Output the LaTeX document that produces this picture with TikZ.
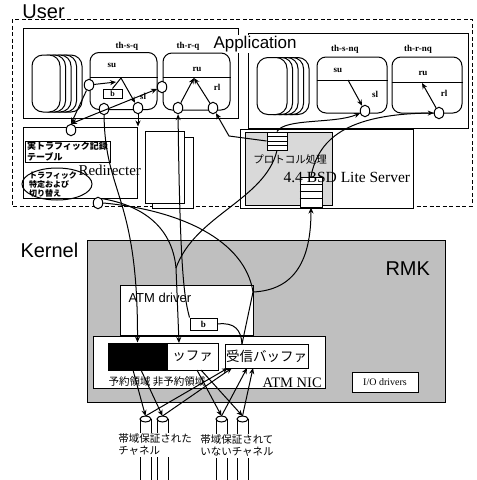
\documentclass[tikz,border=0pt]{standalone}
\usepackage{fontspec}
\setmainfont{Liberation Serif}
\setsansfont{Liberation Sans}
\newfontfamily\jpfont{Noto Sans CJK JP}
\usetikzlibrary{shapes.geometric, arrows.meta, positioning, calc}

\begin{document}
\begin{tikzpicture}[
    x=1pt, y=-1pt,
    line width=1pt,
    box/.style={draw, fill=white, inner sep=0pt},
    userframe/.style={draw, line width=1pt, dash pattern=on 4pt off 2.5pt},
    thbox/.style={draw, rounded corners=9pt, fill=white, minimum width=67pt, minimum height=57pt, inner sep=0pt},
    pill/.style={draw, rounded corners=11pt, fill=white, minimum width=28pt, minimum height=57pt, inner sep=0pt},
    port/.style={ellipse, draw, fill=white, minimum width=9.5pt, minimum height=11.5pt, inner sep=0pt},
    arrow/.style={-{Stealth[length=6pt, width=5pt]}, line width=1pt},
    twoway/.style={{Stealth[length=6pt, width=5pt]}-{Stealth[length=6pt, width=5pt]}, line width=1pt},
    link/.style={line width=1pt},
    tag/.style={font=\bfseries\fontsize{9}{10}\selectfont, inner sep=0pt},
    jp/.style={font=\jpfont\fontsize{10.5}{12}\selectfont, inner sep=0pt},
    title/.style={font=\sffamily\fontsize{20}{20}\selectfont, inner sep=0pt}
]
\useasboundingbox (0,0) rectangle (477,480);

% User space
\node[title, anchor=base west] (user) at (22,18) {User};
\draw[userframe] (12,19) rectangle (472,206);
\node[box, minimum width=215pt, minimum height=90pt] (appl) at (130.5,73) {};
\node[box, minimum width=220pt, minimum height=95pt] (appr) at (358,80.5) {};
\node[title, fill=white, font=\sffamily\fontsize{17}{17}\selectfont, anchor=base west, inner sep=1pt] (app) at (212,48) {Application};

% Thread stacks
\foreach \i in {4,...,0}
    \node[pill] (lq\i) at (46+5.5*\i,83.5) {};
\foreach \i in {4,...,0}
    \node[pill, minimum width=30pt] (rq\i) at (272+5.5*\i,86) {};

% Threads
\node[thbox] (sq) at (123.5,81) {};
\node[thbox] (rq) at (196.5,81.5) {};
\node[thbox, minimum width=70pt, minimum height=56pt] (snq) at (352,85) {};
\node[thbox, minimum width=70pt, minimum height=56pt] (rnq) at (427,85) {};
\draw (sq.west |- 0,77) -- (sq.east |- 0,77);
\draw (rq.west |- 0,77) -- (rq.east |- 0,77);
\draw (snq.west |- 0,80) -- (snq.east |- 0,80);
\draw (rnq.west |- 0,82) -- (rnq.east |- 0,82);
\node[tag] (sqname) at (127,46) {th-s-q};
\node[tag] (rqname) at (188,46) {th-r-q};
\node[tag] (snqname) at (345,49) {th-s-nq};
\node[tag] (rnqname) at (418,49) {th-r-nq};
\node[tag] (sqsu) at (112,65) {su};
\node[tag] (sqsl) at (143,96) {sl};
\node[tag] (rqru) at (197,69) {ru};
\node[tag] (rqrl) at (217,87) {rl};
\node[tag] (snqsu) at (338,70) {su};
\node[tag] (snqsl) at (375,94) {sl};
\node[tag] (rnqru) at (423,73) {ru};
\node[tag] (rnqrl) at (444,93) {rl};
\node[box, minimum width=19pt, minimum height=9pt, font=\bfseries\fontsize{8}{8}\selectfont] (ubuf) at (112.5,93.5) {b};

% Redirecter
\node[box, minimum width=114pt, minimum height=71pt] (redir) at (80,162.5) {};
\node[box, align=left, minimum width=85pt, minimum height=21pt, font=\jpfont\bfseries\fontsize{9}{10.5}\selectfont] (table) at (67.5,151.5) {実トラフィック記録\\テーブル};
\node[font=\fontsize{15}{15}\selectfont, anchor=base west, inner sep=0pt] (redirname) at (78,175) {Redirecter};
\node[ellipse, draw, minimum width=70pt, minimum height=32pt, inner sep=0pt] (ident) at (57,184) {};
\node[jp, align=left, font=\jpfont\bfseries\fontsize{8}{9}\selectfont] (identtext) at (53,185) {トラフィック\\特定および\\切り替え};
\node[box, minimum width=41pt, minimum height=71pt] (midb) at (172.5,172.5) {};
\node[box, minimum width=39pt, minimum height=72pt] (midf) at (164.5,167) {};

% Server
\node[box, minimum width=173pt, minimum height=79pt] (srv) at (326.5,168.5) {};
\node[draw, fill=gray!30, minimum width=87pt, minimum height=73pt, inner sep=0pt] (proto) at (288.5,168.5) {};
\node[box, minimum width=20pt, minimum height=18pt] (q1) at (277,141) {};
\foreach \y in {136.5,141,145.5}
    \draw (q1.west |- 0,\y) -- (q1.east |- 0,\y);
\node[box, minimum width=22pt, minimum height=30pt] (q2) at (311,192) {};
\foreach \y in {184,191,198}
    \draw (q2.west |- 0,\y) -- (q2.east |- 0,\y);
\node[jp] (protoname) at (290,160) {プロトコル処理};
\node[font=\fontsize{15.5}{15.5}\selectfont, anchor=base west, inner sep=0pt] (srvname) at (283,182) {4.4 BSD Lite Server};

% Kernel
\node[title, anchor=base west] (kernel) at (20,257) {Kernel};
\node[draw, fill=gray!50, minimum width=358pt, minimum height=162pt, inner sep=0pt] (rmk) at (266,321) {};
\node[title, anchor=base west] (rmkname) at (385,275) {RMK};
\node[box, minimum width=133pt, minimum height=50pt] (drv) at (186.5,310) {};
\node[font=\sffamily\fontsize{13}{13}\selectfont, anchor=base west, inner sep=0pt] (drvname) at (128,302) {ATM driver};
\node[box, minimum width=27pt, minimum height=12pt, font=\bfseries\fontsize{9}{9}\selectfont] (kb) at (203.5,324) {b};
\node[box, minimum width=232pt, minimum height=52pt] (nic) at (209,362) {};
\node[draw, fill=black, minimum width=59pt, minimum height=27pt, inner sep=0pt] (sendl) at (137.5,356.5) {};
\node[box, minimum width=51pt, minimum height=27pt, font=\jpfont\fontsize{13.5}{14}\selectfont] (sendr) at (192.5,356.5) {ッファ};
\node[box, minimum width=83pt, minimum height=24pt, font=\jpfont\fontsize{13.5}{14}\selectfont] (recv) at (266.5,356) {受信バッファ};
\node[jp] (areas) at (157,382) {予約領域 非予約領域};
\node[font=\fontsize{14.5}{14.5}\selectfont, anchor=base west, inner sep=0pt] (nicname) at (262,387) {ATM NIC};
\node[box, minimum width=66pt, minimum height=20pt, font=\fontsize{10}{10}\selectfont] (io) at (385,382) {I/O drivers};

% Channels
\foreach \n/\x in {1/145.5, 2/162.5, 3/221.5, 4/242.5} {
    \draw[link] (\x-5.5,419) -- (\x-5.5,480) (\x+5.5,419) -- (\x+5.5,480);
    \draw[link, fill=white] (\x,419) ellipse [x radius=5.5, y radius=3];
    \coordinate (ch\n) at (\x,416);
}
\node[jp, fill=white, align=left, inner sep=1pt] (chres) at (155,445) {帯域保証された\\チャネル};
\node[jp, fill=white, align=left, inner sep=1pt] (chfree) at (237,446) {帯域保証されて\\いないチャネル};

% Ports
\node[port] (sqin) at (89,85) {};
\node[port] (sqb) at (104,109) {};
\node[port] (sqout) at (138,108) {};
\node[port] (rqin) at (162,87) {};
\node[port] (rqa) at (178,108) {};
\node[port] (rqb) at (213,108) {};
\node[port] (snqp) at (365,111) {};
\node[port] (rnqp) at (439,113) {};
\node[port] (rtop) at (71,130) {};
\node[port] (rbot) at (98,203) {};

% Arrows
\coordinate (sqhit) at (116,82);
\coordinate (sqtop) at (121,78);
\coordinate (rqtop) at (194,78);
\coordinate (snqtop) at (348,80);
\coordinate (rnqtop) at (422,83);
\draw[arrow] (sqin) -- (sqhit);
\draw[link] (ubuf.north) -- (sqtop);
\draw[arrow] (sqtop) -- (sqout);
\draw[arrow] (sqin) -- (rtop.north);
\draw[twoway] (rtop.north) -- (rqin);
\draw[arrow] (sqout) -- (redir.north east -| sqout);
\draw[arrow] (rqa) -- (rqtop);
\draw[arrow] (rqb) -- (rqtop);
\draw[arrow] (snqtop) -- (snqp);
\draw[arrow] (rnqp) -- (rnqtop);
\draw[arrow] (q1.west) -- (229,136) -- (rqb);
\draw[arrow] (q1.north) .. controls (285,118) and (335,124) .. (snqp);
\draw[arrow] (q2.north) .. controls (318,140) and (345,114) .. (rnqp.west);

\coordinate (jct) at (253,292);
\coordinate (fork) at (176,268);
\coordinate (sendin) at (179,343);
\coordinate (recvin) at (242,344);
\draw[arrow] (sqb) .. controls (105,195) and (138,195) .. (sendl.north);
\draw[link] (rbot.north east) .. controls (140,205) and (172,225) .. (fork);
\draw[link] (q1.south) .. controls (265,200) and (195,215) .. (fork);
\draw[arrow] (fork) -- (sendin);
\draw[arrow] (kb.north west) .. controls (185,300) and (180,280) .. (rqa);
\draw[link] (rbot.east) .. controls (180,210) and (245,240) .. (jct);
\draw[arrow] (jct) .. controls (295,290) and (311,260) .. (q2.south);
\draw[link] (recvin) -- (jct);
\draw[link] (kb.east) .. controls (235,322) and (241,330) .. (recvin);

\coordinate (s1) at (133,370);
\coordinate (s2) at (141,370);
\coordinate (s3) at (197,370);
\coordinate (s4) at (201,370);
\coordinate (r1) at (228,368);
\coordinate (r2) at (232,368);
\coordinate (r3) at (247,368);
\coordinate (r4) at (253,368);
\foreach \n in {1,...,4} {
    \draw[arrow] (s\n) -- (ch\n);
    \draw[arrow] (ch\n) -- (r\n);
}

\end{tikzpicture}
\end{document}
